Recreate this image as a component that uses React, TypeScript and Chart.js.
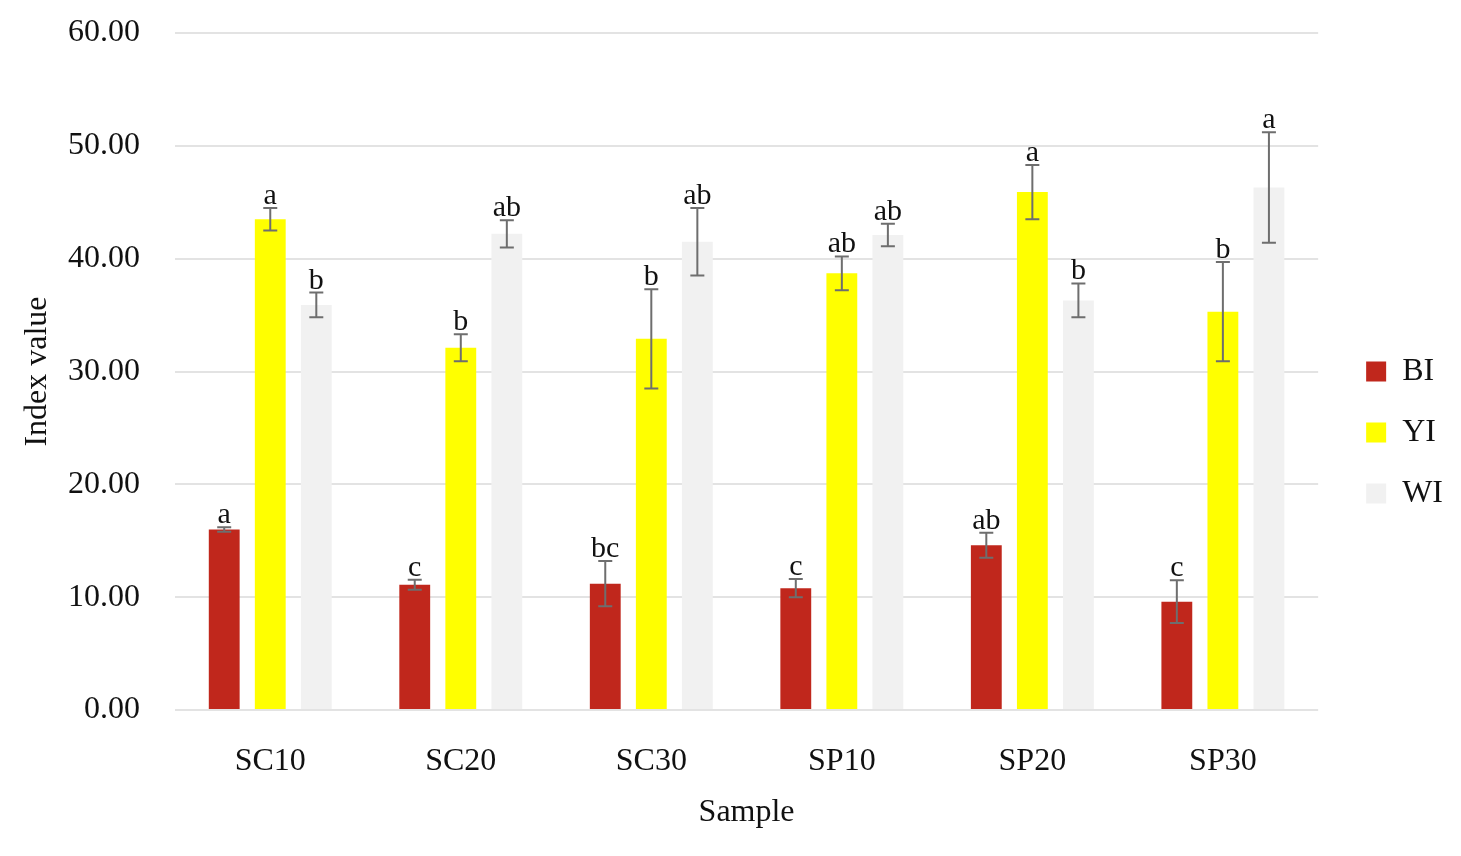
import React, { useEffect, useRef } from 'react';
import { Chart, registerables } from 'chart.js';
Chart.register(...registerables);

const samples = ['SC10', 'SC20', 'SC30', 'SP10', 'SP20', 'SP30'];

const biValues = [16.0, 11.1, 11.2, 10.8, 14.6, 9.6];
const biErrors = [0.2, 0.45, 2.0, 0.8, 1.1, 1.9];
const biLetters = ['a', 'c', 'bc', 'c', 'ab', 'c'];

const yiValues = [43.5, 32.1, 32.9, 38.7, 45.9, 35.3];
const yiErrors = [1.0, 1.2, 4.4, 1.5, 2.4, 4.4];
const yiLetters = ['a', 'b', 'b', 'ab', 'a', 'b'];

const wiValues = [35.9, 42.2, 41.5, 42.1, 36.3, 46.3];
const wiErrors = [1.1, 1.2, 3.0, 1.0, 1.5, 4.9];
const wiLetters = ['b', 'ab', 'ab', 'ab', 'b', 'a'];

const yTicks = [0, 10, 20, 30, 40, 50, 60];

const serif = "'Liberation Serif', 'DejaVu Serif', serif";

// error bars + significance letters on top of every bar
const errorBars = {
	id: 'errorBars',
	afterDatasetsDraw(chart: any) {
		const { ctx } = chart;
		const yScale = chart.scales.y;
		chart.data.datasets.forEach((ds: any, i: number) => {
			const meta = chart.getDatasetMeta(i);
			meta.data.forEach((bar: any, j: number) => {
				const v = ds.data[j];
				const e = ds.errors[j];
				const top = yScale.getPixelForValue(v + e);
				const bottom = yScale.getPixelForValue(v - e);
				const x = bar.x;
				ctx.save();
				ctx.strokeStyle = '#6e6e6e';
				ctx.lineWidth = 2;
				ctx.beginPath();
				ctx.moveTo(x, top);
				ctx.lineTo(x, bottom);
				ctx.moveTo(x - 7, top);
				ctx.lineTo(x + 7, top);
				ctx.moveTo(x - 7, bottom);
				ctx.lineTo(x + 7, bottom);
				ctx.stroke();
				ctx.fillStyle = '#111';
				ctx.font = `30px ${serif}`;
				ctx.textAlign = 'center';
				ctx.textBaseline = 'alphabetic';
				ctx.fillText(ds.letters[j], x, top - 4);
				ctx.restore();
			});
		});
	},
};

const App = () => {
	const canvasRef = useRef<HTMLCanvasElement>(null);

	useEffect(() => {
		const chart = new Chart(canvasRef.current!, {
			type: 'bar',
			data: {
				labels: samples,
				datasets: [
					{
						label: 'BI',
						data: biValues,
						errors: biErrors,
						letters: biLetters,
						backgroundColor: '#c0271c',
						categoryPercentage: 0.725,
						barPercentage: 0.67,
					} as any,
					{
						label: 'YI',
						data: yiValues,
						errors: yiErrors,
						letters: yiLetters,
						backgroundColor: '#ffff00',
						categoryPercentage: 0.725,
						barPercentage: 0.67,
					} as any,
					{
						label: 'WI',
						data: wiValues,
						errors: wiErrors,
						letters: wiLetters,
						backgroundColor: '#f1f1f1',
						categoryPercentage: 0.725,
						barPercentage: 0.67,
					} as any,
				],
			},
			options: {
				animation: false,
				responsive: true,
				maintainAspectRatio: false,
				layout: { padding: { top: 25, left: 0, right: 0, bottom: 16 } },
				plugins: {
					tooltip: { enabled: false },
					legend: {
						position: 'right',
						labels: {
							boxWidth: 20,
							boxHeight: 20,
							padding: 29,
							color: '#111',
							font: { family: serif, size: 32 },
						},
					},
				},
				scales: {
					x: {
						grid: { display: false, drawTicks: false },
						border: { display: false },
						ticks: { color: '#111', padding: 32, font: { family: serif, size: 32 } },
						title: {
							display: true,
							text: 'Sample',
							color: '#111',
							padding: { top: 11, bottom: 0 },
							font: { family: serif, size: 32 },
						},
						afterFit: (scale: any) => {
							scale.height = 122;
							scale.paddingLeft = 0;
							scale.paddingRight = 0;
						},
					},
					y: {
						min: 0,
						max: 60,
						afterBuildTicks: (scale: any) => {
							scale.ticks = yTicks.map((value) => ({ value }));
						},
						grid: { color: '#e3e3e3', lineWidth: 2, drawTicks: false },
						border: { display: false },
						ticks: {
							color: '#111',
							padding: 35,
							font: { family: serif, size: 32 },
							callback: (v: any) => Number(v).toFixed(2),
						},
						title: {
							display: true,
							text: 'Index value',
							color: '#111',
							padding: { top: 10, bottom: 12 },
							font: { family: serif, size: 32 },
						},
						afterFit: (scale: any) => {
							scale.width = 167;
							scale.paddingTop = 0;
							scale.paddingBottom = 0;
						},
					},
					// empty axis, only keeps the gap between plot and legend
					gap: {
						type: 'linear',
						position: 'right',
						display: true,
						grid: { display: false },
						border: { display: false },
						ticks: { display: false },
						afterFit: (scale: any) => {
							scale.width = 19;
						},
					},
				},
			},
			plugins: [errorBars],
		});
		return () => chart.destroy();
	}, []);

	return (
		<div style={{ position: 'relative', width: 1445, height: 840 }}>
			<canvas ref={canvasRef}></canvas>
		</div>
	);
};

export default App;
